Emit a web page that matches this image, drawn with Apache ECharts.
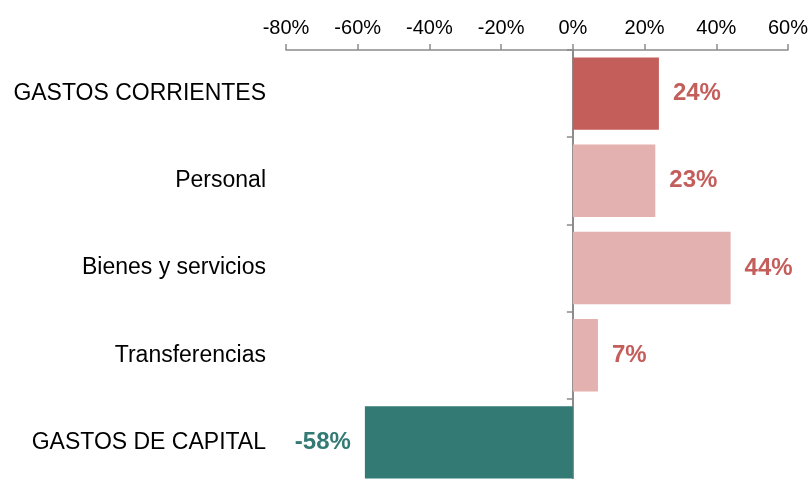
<!DOCTYPE html>
<html>
<head>
<meta charset="utf-8">
<script src="https://cdn.jsdelivr.net/npm/echarts@6/dist/echarts.min.js"></script>
<style>
  html, body { margin: 0; padding: 0; background: #fff; overflow: hidden; }
  #chart { width: 811px; height: 486px; }
</style>
</head>
<body>
<div id="chart"></div>
<script>
// categories top to bottom
var categories = ['GASTOS CORRIENTES', 'Personal', 'Bienes y servicios', 'Transferencias', 'GASTOS DE CAPITAL']
// variation in percent
var values = [24, 23, 44, 7, -58]
var tickMin = -80
var tickMax = 60
var tickStep = 20

var DARK_RED = '#C45E5B'
var LIGHT_RED = '#E3B1AF'
var TEAL = '#337A74'
var AXIS_GREY = '#8C8C8C'

function barColor(idx, val) {
  if (val < 0) return TEAL
  if (idx === 0) return DARK_RED
  return LIGHT_RED
}

// the last bar runs off the bottom of the picture, so the chart is a bit taller than the window
var chart = echarts.init(document.getElementById('chart'), null, { renderer: 'canvas' })

chart.setOption({
  animation: false,
  grid: {
    left: 286,
    right: 21,
    top: 50,
    bottom: 0,
    containLabel: false
  },
  xAxis: {
    type: 'value',
    position: 'top',
    min: tickMin,
    max: tickMax,
    interval: tickStep,
    splitLine: { show: false },
    axisLine: { show: true, onZero: false, lineStyle: { color: AXIS_GREY, width: 1.5 } },
    axisTick: { show: true, length: 6, lineStyle: { color: AXIS_GREY, width: 1.5 } },
    axisLabel: {
      margin: 12,
      color: '#000',
      fontFamily: 'Liberation Sans, Arial, sans-serif',
      fontSize: 20,
      formatter: function (v) { return v + '%' }
    }
  },
  yAxis: [
    {
      // labels only
      type: 'category',
      inverse: true,
      data: categories,
      position: 'left',
      axisLine: { show: false, onZero: false },
      axisTick: { show: false },
      axisLabel: {
        margin: 20,
        color: '#000',
        fontFamily: 'Liberation Sans, Arial, sans-serif',
        fontSize: 23
      }
    },
    {
      // zero line with category ticks
      type: 'category',
      inverse: true,
      data: categories,
      position: 'left',
      axisLine: { show: true, onZero: true, lineStyle: { color: AXIS_GREY, width: 2 } },
      axisTick: { show: true, inside: false, length: 6, lineStyle: { color: AXIS_GREY, width: 1.5 } },
      axisLabel: { show: false }
    }
  ],
  series: [{
    type: 'bar',
    yAxisIndex: 0,
    data: values.map(function (v) {
      return {
        value: v,
        label: {
          position: v < 0 ? 'left' : 'right',
          color: v < 0 ? TEAL : DARK_RED
        }
      }
    }),
    barCategoryGap: '17%',
    itemStyle: {
      color: function (p) { return barColor(p.dataIndex, p.value) }
    },
    label: {
      show: true,
      distance: 14,
      fontFamily: 'Liberation Sans, Arial, sans-serif',
      fontSize: 24,
      fontWeight: 'bold',
      formatter: function (p) { return p.value + '%' }
    },
    z: 1
  }]
})
</script>
</body>
</html>
